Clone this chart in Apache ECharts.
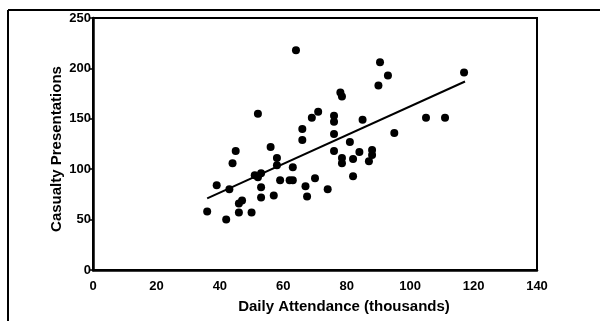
<!DOCTYPE html>
<html>
<head>
<meta charset="utf-8">
<script src="https://cdn.jsdelivr.net/npm/echarts@6/dist/echarts.min.js"></script>
<style>
  html, body { margin: 0; padding: 0; background: #fff; }
  #main { width: 600px; height: 321px; }
</style>
</head>
<body>
<div id="main"></div>
<script>
// daily attendance (thousands) vs casualty presentations
var attendance = [36, 39, 42, 43, 44, 45, 46, 46, 47, 50, 51, 52, 52, 53, 53, 53,
    56, 57, 58, 58, 59, 62, 63, 63, 64, 66, 66, 67, 67.5, 69, 70, 71, 74, 76, 76,
    76, 76, 78, 78.5, 78.5, 78.5, 81, 82, 82, 84, 85, 87, 88, 88, 90, 90.5, 93, 95,
    105, 111, 117];
var presentations = [58, 84, 50, 80, 106, 118, 57, 66, 69, 57, 94, 155, 92, 96, 82, 72,
    122, 74, 104, 111, 89, 89, 89, 102, 218, 129, 140, 83, 73, 151, 91, 157, 80, 153, 147,
    118, 135, 176, 172, 111, 106, 127, 93, 110, 117, 149, 108, 119, 114, 183, 206, 193, 136,
    151, 151, 196];
// fitted line end points
var fitX = [36, 117.3];
var fitY = [71, 187];

var xTicks = { min: 0, max: 140, step: 20 };
var yTicks = { min: 0, max: 250, step: 50 };

var pts = attendance.map(function (a, i) { return [a, presentations[i]]; });
var fit = fitX.map(function (a, i) { return [a, fitY[i]]; });

var chart = echarts.init(document.getElementById('main'));
var font = 'Liberation Sans, Arial, sans-serif';

chart.setOption({
    animation: false,
    grid: {
        left: 93, top: 18, right: 63, bottom: 51,
        show: true,
        borderColor: '#000',
        borderWidth: 2
    },
    graphic: [
        { type: 'line', shape: { x1: 8, y1: 10, x2: 600, y2: 10 }, style: { stroke: '#000', lineWidth: 2 } },
        { type: 'line', shape: { x1: 8, y1: 10, x2: 8, y2: 321 }, style: { stroke: '#000', lineWidth: 2 } }
    ],
    xAxis: {
        type: 'value',
        min: xTicks.min, max: xTicks.max, interval: xTicks.step,
        name: 'Daily Attendance (thousands)',
        nameLocation: 'middle',
        nameGap: 29,
        nameTextStyle: { color: '#000', fontFamily: font, fontWeight: 'bold', fontSize: 15, padding: [0, 0, 0, 58] },
        axisLine: { lineStyle: { color: '#000', width: 2.5 } },
        axisTick: { show: false },
        axisLabel: { color: '#000', fontFamily: font, fontWeight: 'bold', fontSize: 13, margin: 10 },
        splitLine: { show: false }
    },
    yAxis: {
        type: 'value',
        min: yTicks.min, max: yTicks.max, interval: yTicks.step,
        name: 'Casualty Presentations',
        nameLocation: 'middle',
        nameGap: 29,
        nameMoveOverlap: false,
        nameTextStyle: { color: '#000', fontFamily: font, fontWeight: 'bold', fontSize: 15, padding: [0, 10, 0, 0] },
        axisLine: { lineStyle: { color: '#000', width: 2.5 } },
        axisTick: { show: true, length: 3, lineStyle: { color: '#000', width: 1.5 } },
        axisLabel: { color: '#000', fontFamily: font, fontWeight: 'bold', fontSize: 13, margin: 2 },
        splitLine: { show: false }
    },
    series: [
        {
            type: 'scatter',
            data: pts,
            symbolSize: 8,
            itemStyle: { color: '#000', opacity: 1 }
        },
        {
            type: 'line',
            data: fit,
            symbol: 'none',
            lineStyle: { color: '#000', width: 2 }
        }
    ]
});
</script>
</body>
</html>
